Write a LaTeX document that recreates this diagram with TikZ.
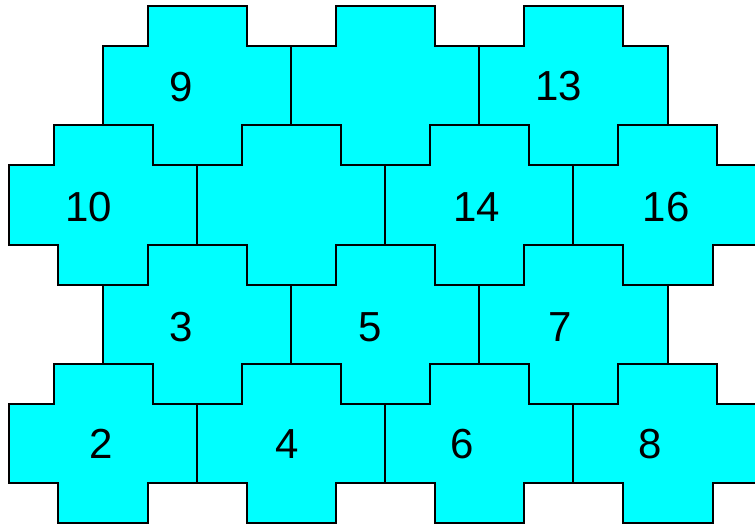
\documentclass[tikz,border=0pt]{standalone}
\usepackage{fontspec}
\setmainfont{Liberation Sans}
\definecolor{tilecyan}{RGB}{0,255,255}
\tikzset{
  tileshape/.style={fill=tilecyan, draw=black, line width=2pt, line join=miter},
  tilelabel/.style={font=\fontsize{42}{46}\selectfont, inner sep=0pt, anchor=center}
}
% #1 = left of wide part, #2 = top of wide part (image coordinates, y downwards)
\newcommand\crosstile[2]{%
  \path[tileshape] (#1,#2) -- ++(45,0) -- ++(0,-40) -- ++(99,0) -- ++(0,40)
    -- ++(44.3,0) -- ++(0,79.3) -- ++(-49.15,0) -- ++(0,40) -- ++(-89.3,0)
    -- ++(0,-40) -- ++(-49.85,0) -- cycle;}
\begin{document}
\begin{tikzpicture}[x=1pt,y=-1pt]
\useasboundingbox (0,0) rectangle (755,523);
\clip (0,0) rectangle (755,523);
% row A
\foreach \L in {102.65,290.95,479.25} {\crosstile{\L}{46}}
% row B
\foreach \L in {8.5,196.8,385.1,573.4} {\crosstile{\L}{165.3}}
% row C
\foreach \L in {102.65,290.95,479.25} {\crosstile{\L}{284.6}}
% row D
\foreach \L in {8.5,196.8,385.1,573.4} {\crosstile{\L}{403.9}}
% labels
\node[tilelabel] (n9)  at (181,87)  {9};
\node[tilelabel] (n13) at (559,86)  {13};
\node[tilelabel] (n10) at (89,207)  {10};
\node[tilelabel] (n14) at (477,207) {14};
\node[tilelabel] (n16) at (666,207) {16};
\node[tilelabel] (n3)  at (181,327) {3};
\node[tilelabel] (n5)  at (370,327) {5};
\node[tilelabel] (n7)  at (560,327) {7};
\node[tilelabel] (n2)  at (101,444) {2};
\node[tilelabel] (n4)  at (287,444) {4};
\node[tilelabel] (n6)  at (462,444) {6};
\node[tilelabel] (n8)  at (650,444) {8};
\end{tikzpicture}
\end{document}
